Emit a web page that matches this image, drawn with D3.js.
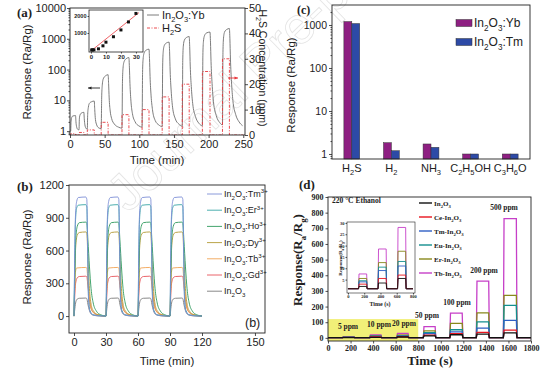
<!DOCTYPE html>
<html>
<head>
<meta charset="utf-8">
<script src="https://cdn.jsdelivr.net/npm/d3@7"></script>
<style>
  body { margin: 0; background: #fff; }
  svg { display: block; }
</style>
</head>
<body>
<svg id="fig" width="554" height="373"></svg>
<script>
'use strict';

// ---------- panel (a) data ----------
const aPulseStart = [1, 13, 25, 45, 75, 104, 133, 162, 191, 220];
const aPulseEnd   = [8, 20, 35, 55, 85, 114, 143, 172, 202, 230];
const aConc       = [0.5, 1, 2, 5, 8, 10, 15, 20, 25, 30];
const aPeak       = [3.2, 4, 9.5, 68, 245, 460, 780, 1180, 1650, 2150];
const aResponse = [
  [0,1.0],[1,1.0],[1.5,2.0],[2.5,2.8],[4,3.1],[8,3.2],[8.6,2.0],[9.5,1.4],[11,1.15],[13,1.1],
  [13.5,2.5],[14.5,3.4],[16,3.8],[20,4.1],[20.6,2.5],[21.5,1.6],[23,1.25],[25,1.15],
  [25.5,3.5],[26.5,6],[28,8],[31,9],[35,9.5],[35.7,5],[36.7,2.4],[38.5,1.6],[41,1.3],[45,1.2],
  [45.7,12],[46.5,30],[48,50],[51,62],[55,68],[55.7,35],[56.5,12],[58,4.5],[60,2.6],[64,1.7],[70,1.35],[75,1.25],
  [75.7,40],[76.5,110],[78,180],[81,225],[85,245],[85.7,120],[86.5,35],[88,9],[90,3.8],[94,2],[99,1.5],[104,1.35],
  [104.7,80],[105.5,220],[107,350],[110,430],[114,460],[114.7,230],[115.5,60],[117,14],[119,5],[123,2.2],[128,1.6],[133,1.4],
  [133.7,130],[134.5,380],[136,600],[139,730],[143,780],[143.7,380],[144.5,90],[146,20],[148,6],[152,2.5],[157,1.7],[162,1.45],
  [162.7,200],[163.5,580],[165,900],[168,1100],[172,1180],[172.7,560],[173.5,130],[175,28],[177,8],[181,3],[186,1.8],[191,1.5],
  [191.7,280],[192.5,800],[194,1250],[197,1550],[202,1650],[202.7,780],[203.5,180],[205,35],[207,9],[211,3.2],[216,1.9],[220,1.6],
  [220.7,360],[221.5,1050],[223,1650],[226,2000],[230,2150],[230.7,1000],[231.5,220],[233,40],[235,10],[239,3.5],[244,2],[249,1.5]
];
const aTicksY = [1, 10, 100, 1000, 10000];
const aTicksX = [0, 50, 100, 150, 200, 250];
const aTicksR = [0, 10, 20, 30, 40, 50];
const aFitX = [0, 32];
const aFitY = [-60, 2200];
const aInsetTicksX = [0, 10, 20, 30];
const aInsetTicksY = [1000, 2000];

// ---------- panel (b) data ----------
const bCycleStart = [0, 30, 60, 90];
const bColors = ["#7d8fd6", "#3aa6a6", "#2f9a5c", "#b39a34", "#f2a455", "#e8545a", "#7a7a7a"];
const bProfiles = [
  [[0,0],[0.6,500],[1.3,900],[2.5,1050],[4,1085],[11,1090],[12,1070],[12.8,600],[13.6,150],[15,40],[18,10],[24,2],[30,0]],
  [[0,0],[0.6,450],[1.3,850],[2.5,990],[4,1015],[11,1020],[12,1000],[12.8,600],[13.6,180],[15,50],[18,12],[24,3],[30,0]],
  [[0,0],[0.7,350],[1.5,680],[3,820],[5,855],[11,860],[12,850],[13,700],[14.5,450],[16,250],[18,120],[21,45],[25,12],[30,0]],
  [[0,0],[0.7,300],[1.5,620],[3,740],[5,765],[11,770],[12,760],[13,550],[14.5,250],[16,110],[18,50],[22,15],[30,0]],
  [[0,0],[0.6,250],[1.3,400],[2.5,440],[11,445],[12,440],[13,320],[14.5,150],[16,70],[19,25],[24,6],[30,0]],
  [[0,0],[0.7,180],[1.5,300],[3,350],[5,362],[11,365],[12,360],[13,280],[14.5,150],[16,70],[19,25],[24,6],[30,0]],
  [[0,0],[0.8,70],[1.7,130],[3,155],[5,163],[11,165],[12,160],[13,110],[14.5,50],[16,20],[19,6],[24,1],[30,0]]
];
const bLegend = ["In_{2}O_{3}:Tm^{3+}", "In_{2}O_{3}:Er^{3+}", "In_{2}O_{3}:Ho^{3+}", "In_{2}O_{3}:Dy^{3+}",
  "In_{2}O_{3}:Tb^{3+}", "In_{2}O_{3}:Gd^{3+}", "In_{2}O_{3}"];
const bTicksX = [0, 30, 60, 90, 120, 150];
const bTicksY = [0, 300, 600, 900, 1200];

// ---------- panel (c) data ----------
const cGases = ["H_{2}S", "H_{2}", "NH_{3}", "C_{2}H_{5}OH", "C_{3}H_{6}O"];
const cYb = [1200, 1.83, 1.71, 1.0, 1.0];
const cTm = [1080, 1.19, 1.43, 1.0, 1.0];
const cTicksY = [1, 10, 100, 1000];

// ---------- panel (d) data ----------
const dPulseStart = [130, 370, 610, 845, 1080, 1315, 1555];
const dPulseEnd   = [230, 470, 710, 950, 1190, 1425, 1670];
const dPulseLabel = ["5 ppm", "10 ppm", "20 ppm", "50 ppm", "100 ppm", "200 ppm", "500 ppm"];
const dSeries = ["In_{2}O_{3}", "Ce-In_{2}O_{3}", "Tm-In_{2}O_{3}", "Eu-In_{2}O_{3}", "Er-In_{2}O_{3}", "Tb-In_{2}O_{3}"];
const dColors = ["#111111", "#e8141e", "#2f5fc4", "#138f8f", "#88881c", "#c63fc8"];
const dLevels = [
  [2, 3.5, 5.5, 13, 20, 24, 32],
  [3, 5.5, 7, 18, 27, 35, 50],
  [4, 9, 11, 27, 38, 62, 112],
  [4.5, 10.5, 13, 33, 52, 102, 208],
  [5.5, 12.5, 17.5, 45, 92, 160, 272],
  [7.5, 18.5, 28, 72, 158, 362, 762]
];
const dTicksX = [0, 200, 400, 600, 800, 1000, 1200, 1400, 1600, 1800];
const dTicksY = [0, 100, 200, 300, 400, 500, 600, 700, 800, 900];
const dInsetTicksX = [0, 200, 400, 600, 800];
const dInsetTicksY = [5, 10, 15, 20, 25, 30];

// ---------- helpers ----------
const SANS = '"Liberation Sans", Arial, sans-serif';
const SERIF = '"Liberation Serif", "Times New Roman", serif';
const INK = "#222";
const fmt = d3.format("d");

const svg = d3.select("#fig");

// text with _{sub} and ^{sup}
function rich(sel, s, size) {
  const re = /([_^])\{([^}]*)\}|([^_^]+)/g;
  let m, cur = 0;
  while ((m = re.exec(s))) {
    if (m[3]) {
      sel.append("tspan").attr("dy", -cur).text(m[3]);
      cur = 0;
    } else {
      const target = m[1] === "_" ? size * 0.3 : -size * 0.4;
      sel.append("tspan").attr("dy", target - cur).attr("font-size", size * 0.68).text(m[2]);
      cur = target;
    }
  }
  return sel;
}

function label(x, y, s, o) {
  o = o || {};
  const size = o.size || 11;
  const t = svg.append("text")
    .attr("x", x).attr("y", y)
    .attr("font-family", o.font || SANS)
    .attr("font-size", size)
    .attr("font-weight", o.bold ? "bold" : null)
    .attr("fill", o.fill || INK)
    .attr("text-anchor", o.anchor || "start");
  if (o.rotate) t.attr("transform", "rotate(" + o.rotate + "," + x + "," + y + ")");
  return rich(t, s, size);
}

function axis(gen, tx, ty, font, size, bold) {
  const g = svg.append("g").attr("transform", "translate(" + tx + "," + ty + ")").call(gen);
  g.attr("font-family", font).attr("font-size", size).attr("font-weight", bold ? "bold" : null);
  g.select(".domain").remove();
  g.selectAll(".tick line").attr("stroke", INK).attr("stroke-width", 0.8);
  g.selectAll(".tick text").attr("fill", INK);
  return g;
}

function frame(x0, y0, x1, y1, w) {
  svg.append("rect").attr("x", x0).attr("y", y0).attr("width", x1 - x0).attr("height", y1 - y0)
    .attr("fill", "none").attr("stroke", INK).attr("stroke-width", w || 0.9);
}

function minorLog(scale, lo, hi) {
  const out = [];
  for (let p = lo; p < hi; p++) for (let k = 2; k <= 9; k++) out.push(k * Math.pow(10, p));
  return out.filter(v => v >= scale.domain()[0] && v <= scale.domain()[1]);
}

// ---------- watermark ----------
svg.append("text")
  .attr("transform", "translate(128,214) rotate(-44)")
  .attr("font-family", SANS).attr("font-size", 52)
  .attr("fill", "none").attr("stroke", "#e4e4e4").attr("stroke-width", 0.8)
  .text("Journal Pre-proof");

// ================= panel (a) =================
const ax = d3.scaleLinear().domain([0, 252.5]).range([70, 245]);
const ay = d3.scaleLog().domain([0.75, 10000]).range([135, 8]);
const ayR = d3.scaleLinear().domain([0, 50]).range([135, 8]);

svg.append("clipPath").attr("id", "clipA").append("rect")
  .attr("x", 70).attr("y", 8).attr("width", 175).attr("height", 127);

const aLine = d3.line().x(d => ax(d[0])).y(d => ay(d[1])).curve(d3.curveMonotoneX);
svg.append("path").datum(aResponse).attr("clip-path", "url(#clipA)")
  .attr("d", aLine).attr("fill", "none").attr("stroke", "#6e6e6e").attr("stroke-width", 0.9);

const aSteps = [[0, 0]];
aPulseStart.forEach((s, i) => { aSteps.push([s, aConc[i]]); aSteps.push([aPulseEnd[i], 0]); });
aSteps.push([250, 0]);
const stepLine = d3.line().x(d => ax(d[0])).y(d => ayR(d[1])).curve(d3.curveStepAfter);
svg.append("path").datum(aSteps).attr("clip-path", "url(#clipA)")
  .attr("d", stepLine).attr("fill", "none").attr("stroke", "#e8383d")
  .attr("stroke-width", 0.9).attr("stroke-dasharray", "3,1.5,1,1.5");

frame(70, 8, 245, 135);
axis(d3.axisLeft(ay).tickValues(aTicksY).tickFormat(fmt).tickSize(3).tickPadding(1), 70, 0, SANS, 11);
axis(d3.axisLeft(ay).tickValues(minorLog(ay, -1, 4)).tickFormat("").tickSize(1.5), 70, 0, SANS, 11);
axis(d3.axisBottom(ax).tickValues(aTicksX).tickFormat(fmt).tickSize(3).tickPadding(2), 0, 135, SANS, 11);
axis(d3.axisRight(ayR).tickValues(aTicksR).tickFormat(fmt).tickSize(3).tickPadding(1), 245, 0, SANS, 11);

label(31, 72, "Response (Ra/Rg)", { size: 11.5, anchor: "middle", rotate: -90 });
label(157, 164, "Time (min)", { size: 11.5, anchor: "middle" });
label(259, 68, "H_{2}S Concentration (ppm)", { size: 10.5, anchor: "middle", rotate: 90 });
label(17, 17, "(a)", { size: 13, font: SERIF, bold: true });

// arrows
function arrow(x0, x1, y, color) {
  svg.append("line").attr("x1", x0).attr("x2", x1).attr("y1", y).attr("y2", y)
    .attr("stroke", color).attr("stroke-width", 0.9);
  const d = x1 > x0 ? -1 : 1;
  svg.append("path").attr("d", "M" + x1 + "," + y + "l" + (3.5 * d) + ",-1.6l0,3.2z").attr("fill", color);
}
arrow(100, 88, 88, "#222");
arrow(228, 238, 78, "#e8383d");

// legend (a)
svg.append("line").attr("x1", 147).attr("x2", 159).attr("y1", 15).attr("y2", 15)
  .attr("stroke", "#6e6e6e").attr("stroke-width", 0.9);
label(162, 19, "In_{2}O_{3}:Yb", { size: 11 });
svg.append("line").attr("x1", 147).attr("x2", 159).attr("y1", 28).attr("y2", 28)
  .attr("stroke", "#e8383d").attr("stroke-width", 0.9).attr("stroke-dasharray", "3,1.5,1,1.5");
label(162, 32, "H_{2}S", { size: 11 });

// inset (a)
const iax = d3.scaleLinear().domain([-1.3, 34.7]).range([89, 143]);
const iay = d3.scaleLinear().domain([-118, 2353]).range([52, 10]);
svg.append("rect").attr("x", 89).attr("y", 10).attr("width", 54).attr("height", 42).attr("fill", "#fff");
svg.append("line").attr("x1", iax(aFitX[0])).attr("x2", iax(aFitX[1]))
  .attr("y1", iay(aFitY[0])).attr("y2", iay(aFitY[1]))
  .attr("stroke", "#e8383d").attr("stroke-width", 0.8);
svg.append("g").selectAll("rect").data(aConc).join("rect")
  .attr("x", (d) => iax(d) - 1.5).attr("y", (d, i) => iay(aPeak[i]) - 1.5)
  .attr("width", 3).attr("height", 3).attr("fill", "#111");
frame(89, 10, 143, 52, 0.8);
axis(d3.axisBottom(iax).tickValues(aInsetTicksX).tickFormat(fmt).tickSize(1.5).tickPadding(1), 0, 52, SANS, 6, true);
axis(d3.axisLeft(iay).tickValues(aInsetTicksY).tickFormat(fmt).tickSize(1.5).tickPadding(1), 89, 0, SANS, 5.5, true);

// ================= panel (b) =================
// the printed time axis of the original is not evenly spaced after 120 min
const bx = d3.scaleLinear().domain([-4.7, 120, 155.7]).range([69, 202, 265]);
const by = d3.scaleLinear().domain([-155, 1200]).range([333, 185]);
const bLine = d3.line().x(d => bx(d[0])).y(d => by(d[1])).curve(d3.curveMonotoneX);

bProfiles.slice().reverse().forEach((prof, ri) => {
  const i = bProfiles.length - 1 - ri;
  const pts = [];
  bCycleStart.forEach(c => prof.forEach(p => pts.push([c + p[0], p[1]])));
  svg.append("path").datum(pts).attr("d", bLine).attr("fill", "none")
    .attr("stroke", bColors[i]).attr("stroke-width", 0.9);
});

frame(69, 185, 265, 333);
axis(d3.axisLeft(by).tickValues(bTicksY).tickFormat(fmt).tickSize(3).tickPadding(2), 69, 0, SANS, 11);
axis(d3.axisBottom(bx).tickValues(bTicksX).tickFormat(fmt).tickSize(3).tickPadding(2), 0, 333, SANS, 11);
label(31, 257, "Response (Ra/Rg)", { size: 11.5, anchor: "middle", rotate: -90 });
label(167, 365, "Time (min)", { size: 11.5, anchor: "middle" });
label(17, 191, "(b)", { size: 13, font: SERIF, bold: true });
label(245, 327, "(b)", { size: 12.5 });

bLegend.forEach((s, i) => {
  const y = 194 + i * 16.2;
  svg.append("line").attr("x1", 207).attr("x2", 222).attr("y1", y).attr("y2", y)
    .attr("stroke", bColors[i]).attr("stroke-width", 0.9);
  label(224, y + 3, s, { size: 9 });
});

// ================= panel (c) =================
const cx = d3.scaleBand().domain(cGases).range([332, 530]).paddingInner(0.6).paddingOuter(0.3);
const cy = d3.scaleLog().domain([0.765, 2917]).range([159, 5]);
const cColors = ["#8e1f82", "#2d4aa6"];
[cYb, cTm].forEach((vals, k) => {
  svg.append("g").selectAll("rect").data(cGases).join("rect")
    .attr("x", d => cx(d) + k * cx.bandwidth() / 2)
    .attr("y", (d, i) => cy(vals[i]))
    .attr("width", cx.bandwidth() / 2)
    .attr("height", (d, i) => 159 - cy(vals[i]))
    .attr("fill", cColors[k]).attr("stroke", "#333").attr("stroke-width", 0.5);
});
frame(332, 5, 530, 159);
axis(d3.axisLeft(cy).tickValues(cTicksY).tickFormat(fmt).tickSize(3).tickPadding(2), 332, 0, SANS, 10.5);
axis(d3.axisLeft(cy).tickValues(minorLog(cy, -1, 4)).tickFormat("").tickSize(1.5), 332, 0, SANS, 10);
cGases.forEach(g => label(cx(g) + cx.bandwidth() / 2, 172, g, { size: 11, anchor: "middle" }));
label(295, 85, "Response (Ra/Rg)", { size: 11.5, anchor: "middle", rotate: -90 });
label(297, 14, "(c)", { size: 12, font: SERIF, bold: true });
["In_{2}O_{3}:Yb", "In_{2}O_{3}:Tm"].forEach((s, k) => {
  const y = 23 + k * 19;
  svg.append("rect").attr("x", 456).attr("y", y - 3.5).attr("width", 16).attr("height", 7)
    .attr("fill", cColors[k]).attr("stroke", "#333").attr("stroke-width", 0.5);
  label(474, y + 4, s, { size: 12 });
});

// ================= panel (d) =================
const dx = d3.scaleLinear().domain([0, 1800]).range([328, 531]);
const dy = d3.scaleLinear().domain([-20, 900]).range([341, 197]);

svg.append("rect").attr("x", dx(0)).attr("y", dy(120)).attr("width", dx(800) - dx(0))
  .attr("height", dy(-20) - dy(120)).attr("fill", "#f1ef78");

function pulseTrace(levels, count, endT) {
  const pts = [[0, 1]];
  for (let i = 0; i < count; i++) {
    pts.push([dPulseStart[i], 1], [dPulseStart[i] + 6, levels[i]],
             [dPulseEnd[i], levels[i]], [dPulseEnd[i] + 6, 1]);
  }
  pts.push([endT, 1]);
  return pts;
}
const dLine = d3.line().x(d => dx(d[0])).y(d => dy(d[1]));
dLevels.slice().reverse().forEach((lv, ri) => {
  const i = dLevels.length - 1 - ri;
  svg.append("path").datum(pulseTrace(lv, 7, 1800)).attr("d", dLine)
    .attr("fill", "none").attr("stroke", dColors[i]).attr("stroke-width", 1.3);
});

frame(328, 197, 531, 341);
axis(d3.axisLeft(dy).tickValues(dTicksY).tickFormat(fmt).tickSize(2.5).tickPadding(2), 328, 0, SERIF, 8, true);
axis(d3.axisBottom(dx).tickValues(dTicksX).tickFormat(fmt).tickSize(2.5).tickPadding(2), 0, 341, SERIF, 8, true);
label(430, 365, "Time (s)", { size: 13, font: SERIF, bold: true, anchor: "middle" });
label(302, 260, "Response(R_{a}/R_{g})", { size: 13, font: SERIF, bold: true, anchor: "middle", rotate: -90 });
label(299, 189, "(d)", { size: 13, font: SERIF, bold: true });
label(332, 203, "220 \u00b0C   Ethanol", { size: 7.5, font: SERIF, bold: true });

const dLabelPos = [[348, 329], [379, 327], [404, 326], [427, 318], [457, 305], [484, 273], [504, 210]];
dPulseLabel.forEach((s, i) => label(dLabelPos[i][0], dLabelPos[i][1], s, { size: 7.5, font: SERIF, bold: true, anchor: "middle" }));

dSeries.forEach((s, i) => {
  const y = 203 + i * 14;
  svg.append("line").attr("x1", 419).attr("x2", 432).attr("y1", y).attr("y2", y)
    .attr("stroke", dColors[i]).attr("stroke-width", 1.4);
  label(434, y + 3, s, { size: 7, font: SERIF, bold: true });
});

// inset (d)
const idx = d3.scaleLinear().domain([-12, 825]).range([347, 415]);
const idy = d3.scaleLinear().domain([-0.9, 30.4]).range([293, 222]);
const idLine = d3.line().x(d => idx(d[0])).y(d => idy(d[1]));
dLevels.slice().reverse().forEach((lv, ri) => {
  const i = dLevels.length - 1 - ri;
  svg.append("path").datum(pulseTrace(lv, 3, 800)).attr("d", idLine)
    .attr("fill", "none").attr("stroke", dColors[i]).attr("stroke-width", 0.9);
});
frame(347, 222, 415, 293, 0.6);
axis(d3.axisLeft(idy).tickValues(dInsetTicksY).tickFormat(fmt).tickSize(1.5).tickPadding(1), 347, 0, SERIF, 4.5, true);
axis(d3.axisBottom(idx).tickValues(dInsetTicksX).tickFormat(fmt).tickSize(1.5).tickPadding(0.5), 0, 293, SERIF, 4.5, true);
label(380, 306, "Time (s)", { size: 6, font: SERIF, bold: true, anchor: "middle" });
label(342, 258, "Response(R_{a}/R_{g})", { size: 5, font: SERIF, bold: true, anchor: "middle", rotate: -90 });
</script>
</body>
</html>
